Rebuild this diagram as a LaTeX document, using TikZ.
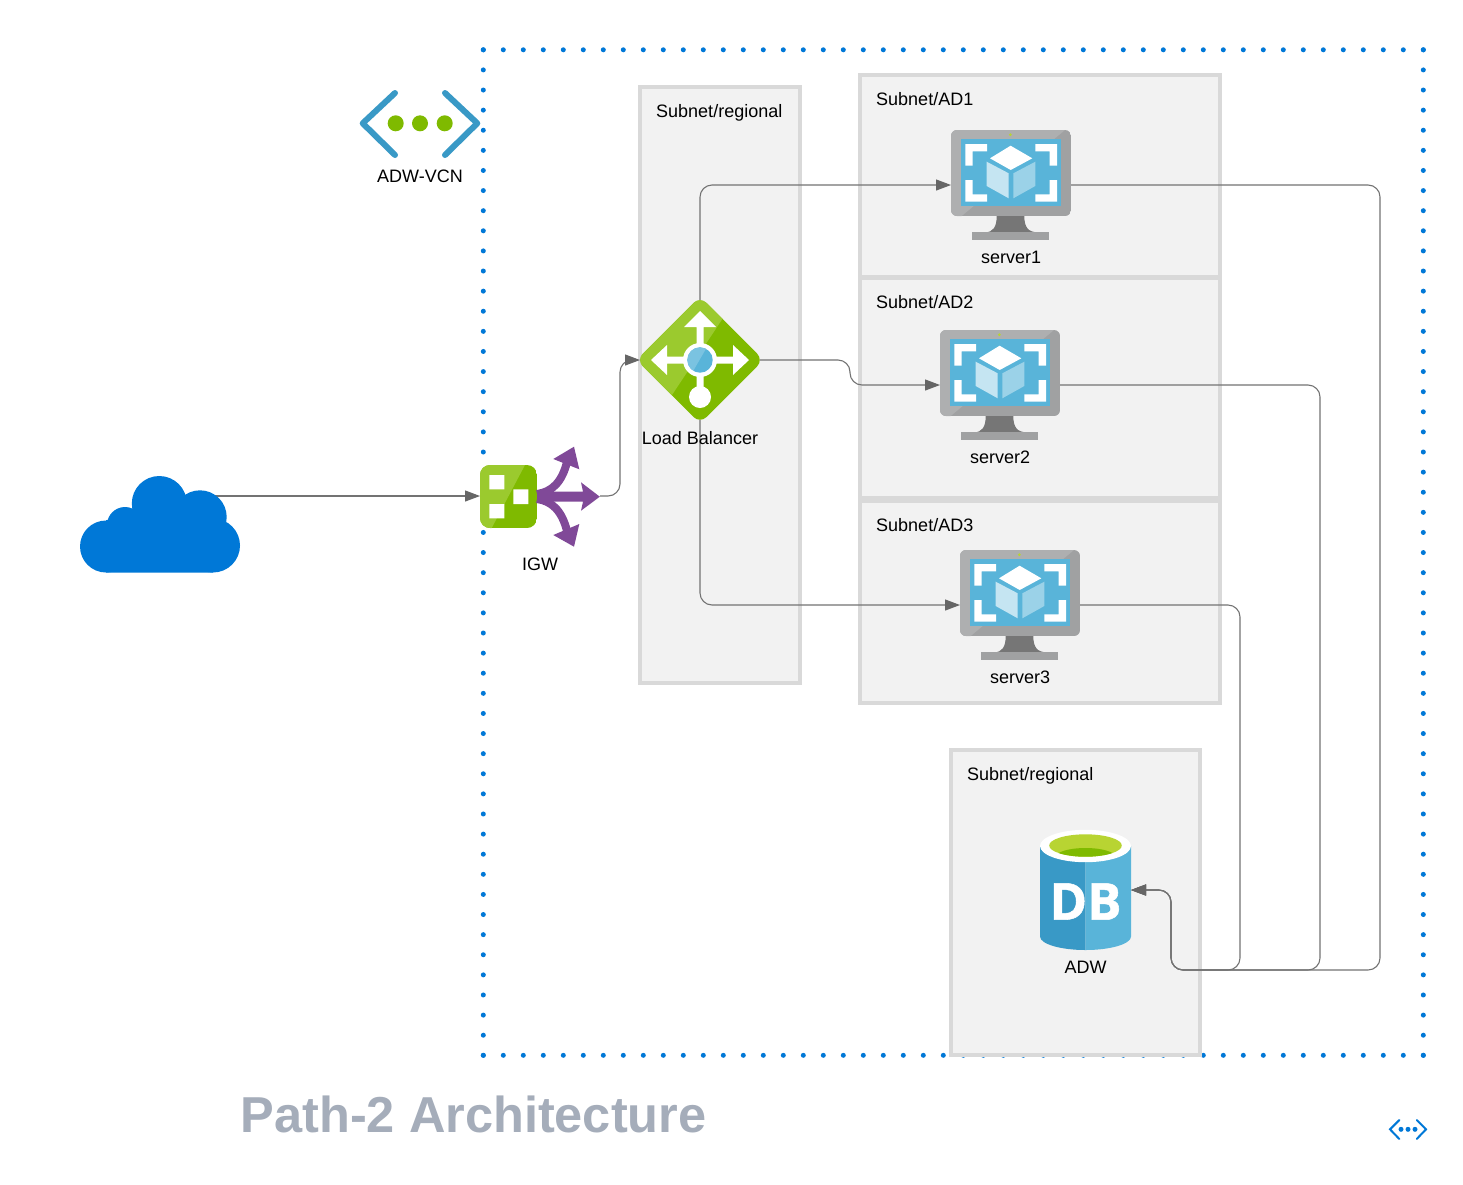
\documentclass[tikz,border=0pt]{standalone}
\usepackage{fontspec}
\setmainfont{Liberation Sans}
\newfontfamily\dbfont[BoldFeatures={FakeBold=1}]{Open Sans}
\usetikzlibrary{arrows.meta}
\definecolor{azblue}{HTML}{0078D7}
\definecolor{azgreen}{HTML}{7FBA00}
\definecolor{azlgreen}{HTML}{9BCA2E}
\definecolor{azcyan}{HTML}{59B4D9}
\definecolor{azdcyan}{HTML}{3999C6}
\definecolor{azlime}{HTML}{B8D432}
\definecolor{azpurple}{HTML}{804998}
\definecolor{boxfill}{HTML}{F2F2F2}
\definecolor{boxline}{HTML}{D9D9D9}
\definecolor{linkc}{HTML}{737373}
\definecolor{tipc}{HTML}{666666}
\definecolor{titlec}{HTML}{A5ADBA}
\definecolor{monl}{HTML}{AEAFB0}
\definecolor{mond}{HTML}{A0A1A2}
\definecolor{monn}{HTML}{767676}
\tikzset{
  subnet/.style={draw=boxline,fill=boxfill,line width=4pt},
  vcnedge/.style={azblue,line width=5pt,line cap=round,dash pattern=on 0pt off #1},
  lbl/.style={font=\fontsize{18}{20}\selectfont,text=black,inner sep=0pt,anchor=base},
  boxlbl/.style={font=\fontsize{18}{20}\selectfont,text=black,inner sep=0pt,anchor=base west},
  iconbox/.style={inner sep=0pt,outer sep=0pt,minimum width=#1},
  link/.style={draw=linkc,line width=1.1pt,rounded corners=12pt,-{Triangle[length=15pt,width=11pt,color=tipc]}},
  monitor/.pic={
    \begin{scope}
      \clip[rounded corners=6pt] (0,0) rectangle (120,86);
      \fill[mond] (0,0) rectangle (120,86);
      \fill[monl] (0,0) -- (114,0) -- (10.7,86) -- (0,86) -- cycle;
    \end{scope}
    \fill[monn] (45.7,86) .. controls (45.7,97) and (42,102.3) .. (34,102.3) -- (87,102.3) .. controls (77,102.3) and (73.3,97) .. (73.3,86) -- cycle;
    \fill[mond] (21.3,102.3) rectangle (98.3,109.7);
    \fill[azlime] (59.3,4.7) circle (1.5pt);
    \fill[azcyan] (10,9) rectangle (110,75.7);
    \fill[white] (14.3,14) -- (36,14) -- (36,21.3) -- (21.6,21.3) -- (21.6,35.7) -- (14.3,35.7) -- cycle;
    \fill[white] (106,14) -- (84.3,14) -- (84.3,21.3) -- (98.7,21.3) -- (98.7,35.7) -- (106,35.7) -- cycle;
    \fill[white] (14.3,71.7) -- (36,71.7) -- (36,64.4) -- (21.6,64.4) -- (21.6,50) -- (14.3,50) -- cycle;
    \fill[white] (106,71.7) -- (84.3,71.7) -- (84.3,64.4) -- (98.7,64.4) -- (98.7,50) -- (106,50) -- cycle;
    \fill[white] (59.6,15.7) -- (81.3,28.3) -- (59.7,40) -- (39,28.3) -- cycle;
    \fill[azcyan!35!white] (35.7,31.7) -- (57.7,43.3) -- (57.7,68.3) -- (35.7,56) -- cycle;
    \fill[azcyan!60!white] (84.3,31.7) -- (62.3,43.3) -- (62.3,68.3) -- (84.3,56) -- cycle;
  }
}
\begin{document}
\begin{tikzpicture}[x=1pt,y=-1pt]
\useasboundingbox (0,0) rectangle (1463,1184);
\fill[white] (0,0) rectangle (1463,1184);

% VCN boundary
\draw[vcnedge=20pt] (483.3,49.8) -- (1423.6,49.8);
\draw[vcnedge=20pt] (483.3,1055.3) -- (1423.6,1055.3);
\draw[vcnedge=20.11pt] (483.3,49.8) -- (483.3,1055.5);
\draw[vcnedge=20.11pt] (1423.3,49.8) -- (1423.3,1055.5);

% subnets
\draw[subnet] (640,87) rectangle (800,683);
\draw[subnet] (860,75) rectangle (1220,277);
\draw[subnet] (860,278) rectangle (1220,498);
\draw[subnet] (860,501) rectangle (1220,703);
\draw[subnet] (950.5,750) rectangle (1200,1055);

% anchors of the icons
\node[iconbox=160pt,minimum height=97pt] (cloud) at (160,496) {};
\node[iconbox=120pt,minimum height=100pt] (igw) at (540,496) {};
\node[iconbox=120pt,minimum height=120pt] (lb) at (700,360) {};
\node[iconbox=120pt,minimum height=110pt] (server1) at (1011,185) {};
\node[iconbox=120pt,minimum height=110pt] (server2) at (1000,385) {};
\node[iconbox=120pt,minimum height=110pt] (server3) at (1020,605) {};
\node[iconbox=91pt,minimum height=119pt] (adw) at (1085.5,890) {};

% connectors
\draw[link] (cloud.center) -- (igw.west);
\draw[link] (igw.east) -- ++(20,0) |- (lb.west);
\draw[link] (lb.north) |- (server1.west);
\draw[link] (lb.south) |- (server3.west);
\draw[link] (lb.east) -- (850,360) -- (850,385) -- (server2.west);
\draw[link] (server1.east) -- (1380,185) -- (1380,970) -- (1171,970) -- (1171,890) -- (adw.east);
\draw[link] (server2.east) -- (1320,385) -- (1320,970) -- (1171,970) -- (1171,890) -- (adw.east);
\draw[link] (server3.east) -- (1240,605) -- (1240,970) -- (1171,970) -- (1171,890) -- (adw.east);

% cloud
\fill[azblue] (106,546.5) circle (26pt) (213,545.5) circle (27pt) (159.3,503.5) circle (27.5pt)
  (200,517) circle (26.7pt) (125,525) circle (18pt);
\fill[azblue] (106,520) -- (213,518.5) -- (213,572.5) -- (106,572.5) -- cycle;

% internet gateway
\begin{scope}
  \clip[rounded corners=10pt] (480,465) rectangle (537,528);
  \fill[azgreen] (480,465) rectangle (537,528);
  \fill[azlgreen] (480,465) -- (525,465) -- (491.7,528) -- (480,528) -- cycle;
\end{scope}
\fill[white] (489.3,475) rectangle (504.3,489.3) (513.3,489.3) rectangle (528.3,504) (489.3,504) rectangle (504.3,518.3);
\fill[azpurple] (537,491.7) -- (583,491.7) -- (581,482.3) -- (599.8,496.7) -- (581,510.7) -- (583,501.7) -- (537,501.7) -- cycle;
\draw[azpurple,line width=8pt] (537,494) .. controls (552,492) and (562,482) .. (567,462);
\draw[azpurple,line width=8pt] (537,499) .. controls (552,501) and (562,511) .. (567,531);
\fill[azpurple] (574,446.7) -- (553.3,459) -- (579.3,469.3) -- cycle;
\fill[azpurple] (574,546.7) -- (553.3,535) -- (579.3,524) -- cycle;

% load balancer
\begin{scope}[shift={(700,360)}]
  \begin{scope}
    \clip[rounded corners=9pt] (0,-63.5) -- (63.5,0) -- (0,63.5) -- (-63.5,0) -- cycle;
    \fill[azgreen] (-64,-64) rectangle (64,64);
    \fill[azlgreen] (21.7,-40) -- (-28,35) -- (-64,64) -- (-64,-64) -- (40,-64) -- cycle;
  \end{scope}
  \fill[white] (0,-49) -- (16,-33) -- (3.5,-33) -- (3.5,-3.5) -- (33,-3.5) -- (33,-15) -- (49,0) -- (33,15) -- (33,3.5)
    -- (3.5,3.5) -- (3.5,30) -- (-3.5,30) -- (-3.5,3.5) -- (-33,3.5) -- (-33,15) -- (-49,0) -- (-33,-15) -- (-33,-3.5)
    -- (-3.5,-3.5) -- (-3.5,-33) -- (-16,-33) -- cycle;
  \fill[white] (0,37) circle (11pt) (0,0) circle (17pt);
  \fill[azcyan] (0,0) circle (12.7pt);
  \begin{scope}
    \clip (0,0) circle (12.7pt);
    \fill[azcyan!80!white] (-13,-13) -- (7,-13) -- (-8,13) -- (-13,13) -- cycle;
  \end{scope}
\end{scope}

% servers
\pic at (951,130) {monitor};
\pic at (940,330) {monitor};
\pic at (960,550) {monitor};

% database
\begin{scope}
  \fill[azdcyan] (1040,846) -- (1040,936.5) arc[x radius=45.5,y radius=13.5,start angle=180,end angle=90] -- (1085.5,846) -- cycle;
  \fill[azcyan] (1085.5,846) -- (1085.5,950) arc[x radius=45.5,y radius=13.5,start angle=90,end angle=0] -- (1131,846) -- cycle;
  \fill[white] (1085.5,846) ellipse [x radius=45.5,y radius=16.2];
  \fill[azlime] (1085.5,845.5) ellipse [x radius=36.3,y radius=11.2];
  \begin{scope}
    \clip (1085.5,845.5) ellipse [x radius=36.3,y radius=11.2];
    \fill[azgreen] (1085.5,857) ellipse [x radius=30,y radius=9];
  \end{scope}
\end{scope}
\node[inner sep=0pt,text=white,font={\dbfont\bfseries\fontsize{51}{51}\selectfont}] (dbtext) at (1085.5,901.5) {DB};

% VCN icon
\draw[azdcyan,line width=6pt,line cap=round,line join=round] (395,93) -- (362.7,123.3) -- (395,155);
\draw[azdcyan,line width=6pt,line cap=round,line join=round] (445,93) -- (477.3,123.3) -- (445,155);
\fill[azgreen] (395.7,123.3) circle (8pt) (420,123.3) circle (8pt) (444.7,123.3) circle (8pt);

% small mark
\draw[azblue,line width=2pt,line cap=round] (1399.3,1120) -- (1390,1129.3) -- (1399.3,1139);
\draw[azblue,line width=2pt,line cap=round] (1416.7,1120) -- (1426,1129.3) -- (1416.7,1139);
\fill[azblue] (1401,1129.3) circle (2.5pt) (1408,1129.3) circle (2.5pt) (1415,1129.3) circle (2.5pt);

% labels
\node[lbl] (l1) at (420,182.3) {ADW-VCN};
\node[lbl] (l2) at (540,570.3) {IGW};
\node[lbl] (l3) at (700,444.3) {Load Balancer};
\node[lbl] (l4) at (1011,263.3) {server1};
\node[lbl] (l5) at (1000,463.3) {server2};
\node[lbl] (l6) at (1020,683.3) {server3};
\node[lbl] (l7) at (1085.5,973.3) {ADW};
\node[boxlbl] (b1) at (656,117.3) {Subnet/regional};
\node[boxlbl] (b2) at (876,105.3) {Subnet/AD1};
\node[boxlbl] (b3) at (876,308.3) {Subnet/AD2};
\node[boxlbl] (b4) at (876,531.3) {Subnet/AD3};
\node[boxlbl] (b5) at (967,780.3) {Subnet/regional};
\node[inner sep=0pt,anchor=base west,text=titlec,font={\bfseries\fontsize{50.5}{52}\selectfont}] (title) at (240.5,1132) {Path-2 Architecture};
\end{tikzpicture}
\end{document}
